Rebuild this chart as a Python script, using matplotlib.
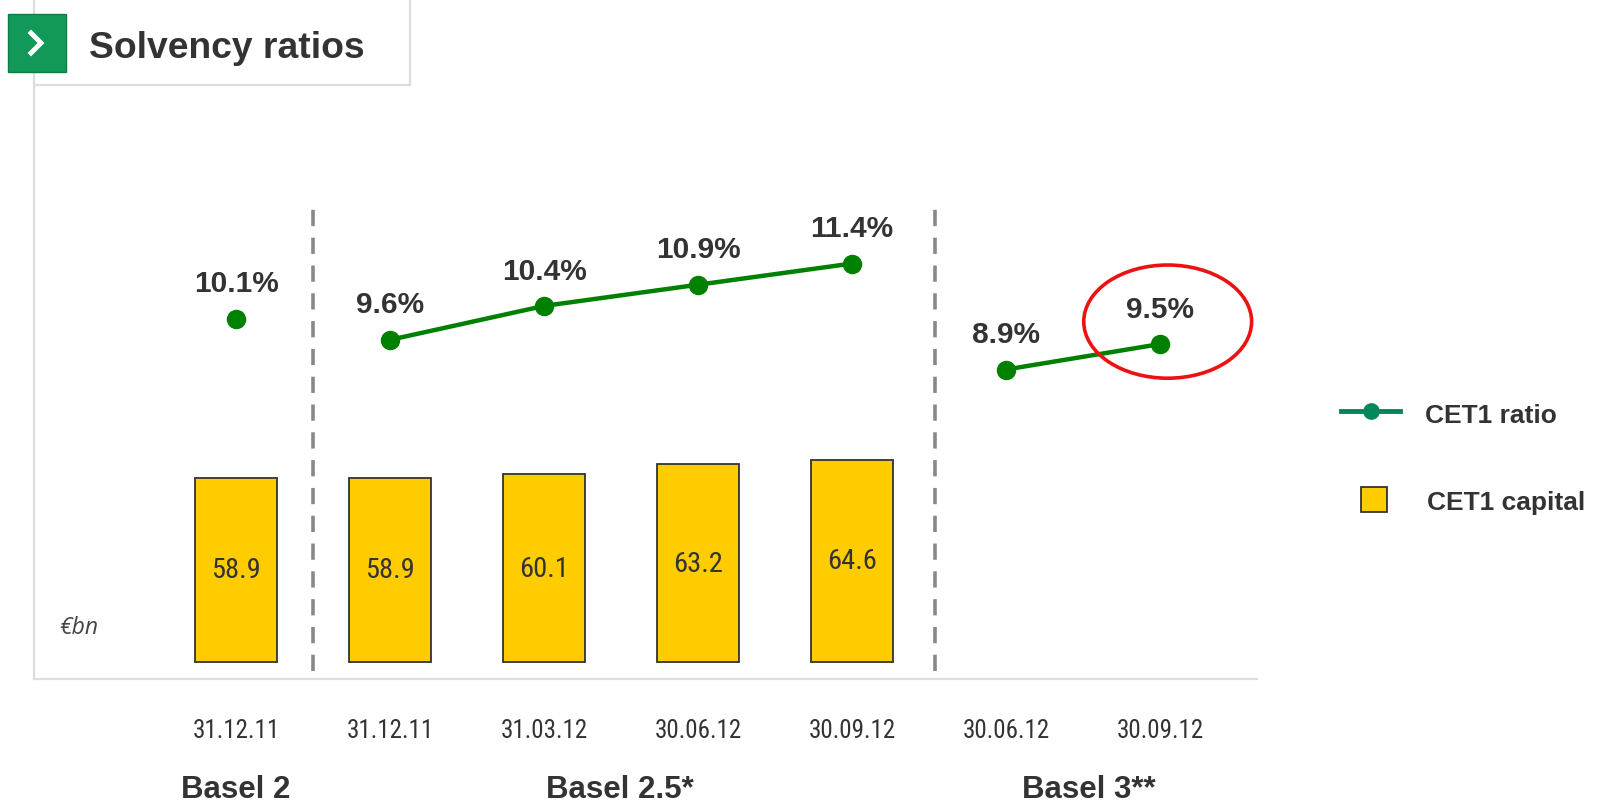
import matplotlib
matplotlib.use("Agg")
import matplotlib.pyplot as plt
from matplotlib import font_manager
from matplotlib.patches import Rectangle, Ellipse
from matplotlib.lines import Line2D
import matplotlib.transforms as mtransforms

# ---------------- data ----------------
dates = ["31.12.11", "31.12.11", "31.03.12", "30.06.12", "30.09.12", "30.06.12", "30.09.12"]
capital = [58.9, 58.9, 60.1, 63.2, 64.6]          # CET1 capital, €bn (first 5 categories)
ratio_basel2 = [10.1]                             # category 0
ratio_basel25 = [9.6, 10.4, 10.9, 11.4]            # categories 1-4
ratio_basel3 = [8.9, 9.5]                          # categories 5-6
groups = ["Basel 2", "Basel 2.5*", "Basel 3**"]

names = {f.name for f in font_manager.fontManager.ttflist}
NARROW = next((n for n in ["Liberation Sans Narrow", "Roboto Condensed", "Arial Narrow"] if n in names), "Liberation Sans")
BOLD = "Liberation Sans" if "Liberation Sans" in names else "DejaVu Sans"

W, H = 1602, 804
fig = plt.figure(figsize=(W / 100, H / 100), dpi=100)
fig.patch.set_facecolor("white")

def fx(x):
    return x / W

def fy(y):
    return 1 - y / H

DARK = "#333333"
GRID = "#dddddd"

ax = fig.add_axes([fx(34), fy(680), fx(1257) - fx(34), 680 / H])
ax.set_xlim(-1.312, 6.63)
ax.set_ylim(-5.44, 212.0)
for s in ["top", "right"]:
    ax.spines[s].set_visible(False)
ax.spines["left"].set_color(GRID)
ax.spines["bottom"].set_color(GRID)
ax.spines["left"].set_linewidth(1.6)
ax.spines["bottom"].set_linewidth(1.6)
ax.set_yticks([])

xcap = list(range(len(capital)))
ax.bar(xcap, capital, width=0.532, color="#FFCC00", edgecolor="#333333", linewidth=1.3, zorder=3)
for x, v in zip(xcap, capital):
    ax.text(x, v / 2, f"{v:.1f}", ha="center", va="center", fontsize=20.5,
            family=NARROW, color=DARK, zorder=4)

ax.set_xticks(range(len(dates)))
ax.set_xticklabels(dates, family=NARROW, fontsize=18, color=DARK)
ax.tick_params(axis="x", length=0, pad=28)

# dashed separators
for xs in [0.5, 4.54]:
    ax.plot([xs, xs], [-2.9, 145.5], color="#888888", lw=2.6, dashes=(4.5, 3.2), zorder=2)

# line axis
ax2 = ax.twinx()
ax2.set_ylim(1.60, 17.64)
ax2.axis("off")
LG = "#008000"
segments = [([0], ratio_basel2), ([1, 2, 3, 4], ratio_basel25), ([5, 6], ratio_basel3)]
for xs, ys in segments:
    ax2.plot(xs, ys, color=LG, lw=3.2, marker="o", markersize=13, zorder=5)
    for x, y in zip(xs, ys):
        ax2.annotate(f"{y:.1f}%", (x, y), xytext=(0, 25.5), textcoords="offset points",
                     ha="center", va="center", fontsize=21.5, fontweight="bold",
                     family=BOLD, color=DARK)

ax2.add_patch(Ellipse((6.05, 10.03), 1.09, 2.67, fill=False, edgecolor="#EE1111", lw=2.6, zorder=6))

# group labels
tr = mtransforms.blended_transform_factory(ax.transData, fig.transFigure)
for gx, g in zip([0, 2.49, 5.54], groups):
    ax.text(gx, fy(790), g, transform=tr, ha="center", va="center", fontsize=22.5,
            fontweight="bold", family=BOLD, color=DARK)

fig.text(fx(59), fy(628), "€bn", ha="left", va="center", fontsize=16.5, style="italic",
         family="Open Sans", color="#444444")

# title box
fig.add_artist(Line2D([fx(34), fx(410)], [fy(86), fy(86)], color=GRID, lw=1.6))
fig.add_artist(Line2D([fx(410), fx(410)], [fy(0), fy(86)], color=GRID, lw=1.6))
fig.add_artist(Rectangle((fx(8), fy(73)), fx(58), 58 / H, facecolor="#12995A",
                         edgecolor="#0b7d45", lw=1, transform=fig.transFigure))
fig.add_artist(Line2D([fx(31), fx(41), fx(31)], [fy(34), fy(44), fy(54)], color="white",
                      lw=3.5, solid_joinstyle="miter"))
fig.text(fx(89), fy(49), "Solvency ratios", ha="left", va="center", fontsize=26.8,
         fontweight="bold", family=BOLD, color=DARK)

# legend
fig.add_artist(Line2D([fx(1341), fx(1400)], [fy(412), fy(412)], color="#00875A", lw=3.5))
fig.add_artist(Line2D([fx(1370.5)], [fy(412)], color="#00875A", marker="o", markersize=11, lw=0))
fig.text(fx(1425), fy(416), "CET1 ratio", ha="left", va="center", fontsize=19,
         fontweight="bold", family=BOLD, color=DARK)
fig.add_artist(Rectangle((fx(1361), fy(513)), fx(26), 25 / H, facecolor="#FFCC00",
                         edgecolor="#333333", lw=1.3, transform=fig.transFigure))
fig.text(fx(1427), fy(503), "CET1 capital", ha="left", va="center", fontsize=19,
         fontweight="bold", family=BOLD, color=DARK)

fig.savefig("out.png", dpi=100, facecolor="white")
